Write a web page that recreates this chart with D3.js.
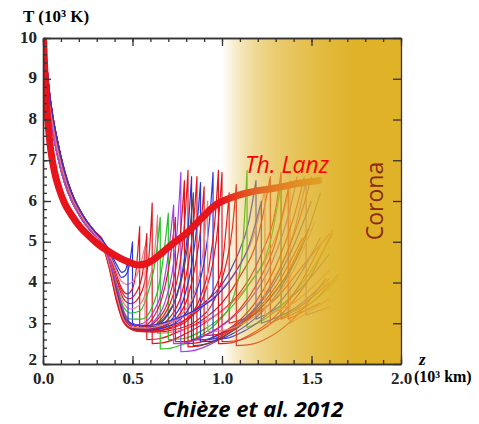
<!DOCTYPE html>
<html lang="en">
<head>
    <meta charset="UTF-8">
    <title>Temperature profiles</title>
    <script src="https://d3js.org/d3.v7.min.js"></script>
    <style>
        body { margin: 0; background: #fff; }
    </style>
</head>
<body>
<svg id="chart" width="479" height="424"></svg>
<script>
    // colours of the thin profiles
    const R = "#e0161e", B = "#2a36e0", G = "#22c222", P = "#a040e8", Pk = "#ef7c80", K = "#5c4646";

    // common steep descent near the photosphere (z in 10^3 km, T in 10^3 K)
    const envA = [[0.005,10],[0.015,9.3],[0.03,8.6],[0.05,8.0],[0.07,7.5],[0.095,7.0],[0.13,6.45],[0.17,6.0],[0.2,5.75],[0.235,5.5],[0.28,5.25],[0.33,5.0]];
    const envB = [[0.01,10],[0.022,9.3],[0.038,8.6],[0.058,8.0],[0.08,7.5],[0.105,7.0],[0.14,6.45],[0.18,6.0],[0.21,5.75],[0.245,5.5],[0.29,5.25],[0.335,5.02]];
    const envC = [[0.002,10],[0.01,9.3],[0.024,8.6],[0.043,8.0],[0.063,7.5],[0.087,7.0],[0.12,6.45],[0.16,6.0],[0.19,5.75],[0.225,5.5],[0.27,5.25],[0.325,5.0]];

    // thin profiles after the descent; two points with the same z = shock front
    const profiles = [
        [B, envA, [[0.37,4.75],[0.41,4.35],[0.44,4.12],[0.465,4.2],[0.485,4.5],[0.5,5.0],[0.5,3.0],[0.56,2.92],[0.66,2.98],[0.78,3.15],[0.9,3.5],[1.0,3.95],[1.08,4.6],[1.15,5.5],[1.19,6.5],[1.19,3.1],[1.3,3.35],[1.45,3.9],[1.6,4.7]]],
        [R, envB, [[0.37,4.7],[0.41,4.2],[0.44,3.85],[0.47,3.72],[0.5,3.85],[0.52,4.3],[0.54,5.37],[0.54,2.85],[0.6,2.82],[0.7,2.92],[0.82,3.15],[0.9,3.45],[0.96,3.85],[1.0,4.4],[1.04,6.2],[1.04,3.0],[1.15,3.15],[1.3,3.6],[1.45,4.4],[1.6,5.2]]],
        [R, envA, [[0.37,4.65],[0.41,4.1],[0.45,3.7],[0.48,3.6],[0.52,3.75],[0.555,4.2],[0.58,5.2],[0.58,2.6],[0.65,2.62],[0.75,2.78],[0.88,3.05],[1.0,3.5],[1.1,4.15],[1.2,5.1],[1.27,6.6],[1.27,3.0],[1.4,3.3],[1.6,4.0]]],
        [R, envC, [[0.37,4.6],[0.41,4.05],[0.45,3.6],[0.49,3.48],[0.53,3.6],[0.57,4.05],[0.595,4.8],[0.61,5.95],[0.61,2.5],[0.68,2.53],[0.8,2.75],[0.95,3.15],[1.1,3.75],[1.22,4.7],[1.3,5.8],[1.33,6.7],[1.33,3.1],[1.5,3.5],[1.65,4.2]]],
        [Pk, envB, [[0.37,4.6],[0.41,4.0],[0.45,3.5],[0.49,3.35],[0.54,3.45],[0.59,4.0],[0.625,4.8],[0.64,5.65],[0.64,2.75],[0.72,2.78],[0.85,2.95],[1.0,3.3],[1.15,3.95],[1.28,4.9],[1.36,6.0],[1.38,6.5],[1.38,3.0],[1.6,3.6]]],
        [G, envA, [[0.37,4.55],[0.41,3.95],[0.45,3.4],[0.49,3.25],[0.54,3.3],[0.59,3.8],[0.63,4.6],[0.655,5.6],[0.655,2.37],[0.7,2.38],[0.78,2.48],[0.88,2.7],[0.98,3.05],[1.06,3.6],[1.11,4.6],[1.14,6.75],[1.14,2.9],[1.22,3.05],[1.35,3.5],[1.5,4.3],[1.62,5.2]]],
        [G, envC, [[0.37,4.55],[0.41,3.9],[0.45,3.3],[0.49,3.1],[0.55,3.1],[0.61,3.4],[0.655,4.1],[0.68,4.9],[0.70,5.7],[0.70,2.6],[0.78,2.62],[0.9,2.85],[1.02,3.25],[1.15,3.95],[1.27,5.0],[1.33,6.4],[1.33,3.2],[1.5,3.5],[1.65,4.1]]],
        [R, envA, [[0.37,4.55],[0.41,3.9],[0.44,3.4],[0.47,3.08],[0.5,2.94],[0.55,2.9],[0.61,3.1],[0.66,3.55],[0.7,4.3],[0.74,5.6],[0.74,2.55],[0.8,2.55],[0.9,2.7],[1.0,2.95],[1.1,3.35],[1.2,4.0],[1.3,5.0],[1.37,6.3],[1.37,3.1],[1.55,3.5]]],
        [P, envB, [[0.37,4.5],[0.41,3.85],[0.44,3.35],[0.47,3.03],[0.51,2.88],[0.56,2.86],[0.62,3.05],[0.68,3.5],[0.72,4.2],[0.75,5.3],[0.77,6.7],[0.77,2.3],[0.83,2.32],[0.92,2.45],[1.02,2.7],[1.15,3.2],[1.28,4.0],[1.4,5.2],[1.47,6.5],[1.47,3.2],[1.6,3.4]]],
        [R, envC, [[0.37,4.5],[0.41,3.8],[0.44,3.3],[0.47,3.0],[0.52,2.86],[0.57,2.85],[0.63,3.05],[0.7,3.55],[0.74,4.3],[0.77,5.3],[0.79,6.5],[0.79,2.5],[0.86,2.52],[0.96,2.68],[1.08,3.0],[1.2,3.6],[1.32,4.6],[1.42,5.9],[1.46,6.6]]],
        [R, envA, [[0.37,4.5],[0.41,3.8],[0.44,3.25],[0.48,2.93],[0.53,2.85],[0.59,2.86],[0.65,3.05],[0.72,3.6],[0.76,4.3],[0.79,5.4],[0.81,6.75],[0.81,2.42],[0.88,2.45],[0.98,2.62],[1.1,2.95],[1.22,3.55],[1.35,4.6],[1.45,5.8],[1.5,6.6]]],
        [B, envB, [[0.37,4.45],[0.41,3.75],[0.44,3.25],[0.48,2.95],[0.53,2.86],[0.6,2.88],[0.68,3.1],[0.74,3.6],[0.78,4.3],[0.81,5.3],[0.83,6.6],[0.83,2.6],[0.9,2.6],[1.0,2.75],[1.12,3.1],[1.25,3.7],[1.38,4.7],[1.5,6.0]]],
        [R, envC, [[0.37,4.45],[0.41,3.7],[0.45,3.1],[0.49,2.9],[0.55,2.84],[0.63,2.9],[0.71,3.15],[0.77,3.65],[0.81,4.4],[0.84,5.4],[0.86,6.6],[0.86,2.6],[0.93,2.6],[1.03,2.78],[1.15,3.15],[1.3,3.9],[1.45,5.1]]],
        [B, envA, [[0.37,4.45],[0.41,3.7],[0.45,3.1],[0.49,2.88],[0.55,2.83],[0.64,2.88],[0.73,3.15],[0.79,3.65],[0.83,4.4],[0.86,5.4],[0.88,6.45],[0.88,2.55],[0.95,2.56],[1.05,2.72],[1.18,3.1],[1.32,3.8],[1.45,4.9]]],
        [R, envB, [[0.37,4.45],[0.41,3.65],[0.45,3.05],[0.5,2.86],[0.57,2.83],[0.66,2.9],[0.75,3.15],[0.81,3.65],[0.85,4.4],[0.88,5.3],[0.90,6.35],[0.90,2.7],[0.97,2.72],[1.07,2.9],[1.2,3.3],[1.35,4.1],[1.48,5.3]]],
        [B, envC, [[0.37,4.4],[0.41,3.65],[0.45,3.05],[0.5,2.85],[0.58,2.82],[0.68,2.9],[0.78,3.15],[0.85,3.7],[0.9,4.5],[0.93,5.5],[0.95,6.7],[0.95,2.62],[1.02,2.63],[1.12,2.8],[1.25,3.2],[1.4,3.95],[1.55,5.1]]],
        [R, envA, [[0.37,4.4],[0.41,3.6],[0.45,3.02],[0.51,2.83],[0.6,2.8],[0.7,2.88],[0.8,3.1],[0.88,3.65],[0.93,4.45],[0.96,5.5],[0.98,6.75],[0.98,2.5],[1.05,2.52],[1.15,2.7],[1.28,3.1],[1.42,3.85],[1.55,4.9]]],
        [R, envB, [[0.37,4.4],[0.41,3.6],[0.46,3.0],[0.52,2.82],[0.61,2.8],[0.72,2.88],[0.82,3.12],[0.9,3.7],[0.95,4.5],[0.98,5.5],[1.0,6.7],[1.0,2.55],[1.08,2.57],[1.2,2.78],[1.35,3.3],[1.5,4.2],[1.62,5.3]]],
        [R, envC, [[0.37,4.35],[0.41,3.55],[0.46,2.97],[0.53,2.8],[0.62,2.78],[0.75,2.86],[0.87,3.1],[0.96,3.6],[1.02,4.4],[1.06,5.4],[1.08,6.4],[1.08,2.45],[1.16,2.48],[1.28,2.7],[1.42,3.2],[1.58,4.1]]],
        [K, envA, [[0.37,4.5],[0.41,3.85],[0.45,3.2],[0.48,2.94],[0.53,2.86],[0.61,2.92],[0.69,3.2],[0.75,3.7],[0.79,4.4],[0.82,5.3],[0.84,6.2],[0.84,2.45],[0.92,2.5],[1.02,2.7],[1.15,3.1],[1.3,3.8],[1.45,4.9],[1.55,6.2]]],
        [Pk, envC, [[0.37,4.45],[0.41,3.7],[0.45,3.1],[0.5,2.9],[0.58,2.88],[0.68,2.98],[0.78,3.25],[0.85,3.8],[0.89,4.6],[0.92,6.0],[0.92,2.8],[1.0,2.82],[1.12,3.0],[1.26,3.45],[1.4,4.3],[1.52,5.5]]],
        [P, envC, [[0.37,4.55],[0.41,3.95],[0.44,3.45],[0.47,3.1],[0.51,2.96],[0.56,3.0],[0.62,3.3],[0.67,3.9],[0.7,4.7],[0.73,5.9],[0.73,2.5],[0.8,2.52],[0.9,2.68],[1.02,3.0],[1.15,3.55],[1.28,4.5],[1.38,5.8],[1.42,6.6]]],
        [Pk, envA, [[0.37,4.7],[0.41,4.28],[0.44,4.02],[0.47,3.95],[0.5,4.02],[0.535,4.3],[0.57,4.9],[0.57,2.95],[0.63,2.95],[0.73,3.05],[0.85,3.3],[0.97,3.7],[1.08,4.3],[1.18,5.2],[1.24,6.3],[1.24,3.2],[1.4,3.5],[1.6,4.3]]],
        [B, envB, [[0.37,4.8],[0.41,4.45],[0.44,4.25],[0.46,4.3],[0.475,4.55],[0.475,3.05],[0.52,2.95],[0.6,2.95],[0.7,3.05],[0.82,3.25],[0.95,3.6],[1.06,4.15],[1.15,4.9],[1.22,6.0],[1.22,3.0],[1.4,3.35],[1.6,4.1]]]
    ];

    // thick mean profile (Th. Lanz)
    const lanz = [[0.003,10],[0.01,9.2],[0.02,8.4],[0.03,7.8],[0.045,7.2],[0.065,6.7],[0.09,6.3],[0.12,5.95],[0.16,5.65],[0.21,5.35],[0.26,5.13],[0.3,4.97],[0.36,4.78],[0.43,4.6],[0.48,4.5],[0.53,4.43],[0.58,4.47],[0.62,4.57],[0.67,4.75],[0.73,4.97],[0.8,5.2],[0.88,5.55],[0.97,5.92],[1.05,6.08],[1.14,6.2],[1.3,6.32],[1.44,6.44],[1.54,6.5]];

    // corona shading: [z, opacity]
    const coronaStops = [[1.0,0],[1.06,0.2],[1.12,0.36],[1.2,0.52],[1.3,0.66],[1.4,0.76],[1.5,0.84],[1.6,0.92],[1.75,1],[2.0,1]];

    const xTicks = [0.0, 0.5, 1.0, 1.5, 2.0];
    const yTicks = [2, 3, 4, 5, 6, 7, 8, 9, 10];

    const serif = '"Liberation Serif", "DejaVu Serif", serif';

    const svg = d3.select("#chart");
    const x = d3.scaleLinear().domain([0, 2]).range([43, 401]);
    const y = d3.scaleLinear().domain([2, 10]).range([364, 38]);

    svg.append("clipPath").attr("id", "plot")
        .append("rect").attr("x", 43).attr("y", 38).attr("width", 358).attr("height", 326);

    const line = d3.line().x(d => x(d[0])).y(d => y(d[1])).curve(d3.curveMonotoneX);

    // smooth pieces joined by vertical shock fronts
    function profilePath(pts) {
        const runs = [[pts[0]]];
        for (let i = 1; i < pts.length; i++) {
            if (pts[i][0] === pts[i - 1][0]) runs.push([pts[i]]);
            else runs[runs.length - 1].push(pts[i]);
        }
        return runs.map((r, i) => {
            const d = r.length > 1 ? line(r) : `M${x(r[0][0])},${y(r[0][1])}`;
            return i ? "L" + d.slice(1) : d;
        }).join("");
    }

    const plot = svg.append("g").attr("clip-path", "url(#plot)");

    plot.selectAll(".thin").data(profiles).enter().append("path")
        .attr("class", "thin")
        .attr("d", d => profilePath(d[1].concat(d[2])))
        .style("fill", "none")
        .style("stroke", d => d[0])
        .style("stroke-width", 1.2)
        .style("stroke-linejoin", "round");

    plot.append("path")
        .attr("d", line(lanz))
        .style("fill", "none")
        .style("stroke", "#e8141b")
        .style("stroke-width", 7)
        .style("stroke-linecap", "round");

    // gold corona overlay
    const grad = svg.append("defs").append("linearGradient")
        .attr("id", "corona").attr("gradientUnits", "userSpaceOnUse")
        .attr("x1", x(1.0)).attr("x2", x(2.0)).attr("y1", 0).attr("y2", 0);
    grad.selectAll("stop").data(coronaStops).enter().append("stop")
        .attr("offset", d => (d[0] - 1.0) / 1.0)
        .attr("stop-color", "#dfb228")
        .attr("stop-opacity", d => d[1]);

    svg.append("rect")
        .attr("x", x(1.0)).attr("y", y(10))
        .attr("width", x(2.0) - x(1.0)).attr("height", y(2) - y(10))
        .style("fill", "url(#corona)");

    // axes, ticks pointing inwards
    const xMinor = d3.range(0, 21).map(i => i / 10);
    const yMinor = d3.range(0, 41).map(i => 2 + i / 5);

    svg.append("g").attr("transform", `translate(0,${y(2)})`)
        .call(d3.axisBottom(x).tickValues(xMinor).tickSize(-4).tickSizeOuter(0).tickFormat(""));
    svg.append("g").attr("class", "xlab").attr("transform", `translate(0,${y(2)})`)
        .call(d3.axisBottom(x).tickValues(xTicks).tickSize(-8).tickSizeOuter(0).tickPadding(8).tickFormat(d3.format(".1f")));
    svg.append("g").attr("transform", `translate(0,${y(10)})`)
        .call(d3.axisTop(x).tickValues(xMinor).tickSize(-4).tickSizeOuter(0).tickFormat(""));
    svg.append("g").attr("transform", `translate(0,${y(10)})`)
        .call(d3.axisTop(x).tickValues(xTicks).tickSize(-8).tickSizeOuter(0).tickFormat(""));

    svg.append("g").attr("transform", `translate(${x(0)},0)`)
        .call(d3.axisLeft(y).tickValues(yMinor).tickSize(-4).tickSizeOuter(0).tickFormat(""));
    svg.append("g").attr("class", "ylab").attr("transform", `translate(${x(0)},0)`)
        .call(d3.axisLeft(y).tickValues(yTicks).tickSize(-8).tickSizeOuter(0).tickPadding(6).tickFormat(d3.format("d")));
    svg.append("g").attr("transform", `translate(${x(2)},0)`)
        .call(d3.axisRight(y).tickValues(yTicks).tickSize(-8).tickSizeOuter(0).tickFormat(""));

    svg.selectAll(".domain").attr("fill", "none").attr("stroke", "#333").attr("stroke-width", 1.3);
    svg.selectAll(".tick line").attr("stroke", "#333").attr("stroke-width", 1.3);
    svg.selectAll(".tick text")
        .attr("font-family", serif).attr("font-weight", "bold").attr("font-size", 17).attr("fill", "#222");
    svg.selectAll(".ylab .tick text").attr("dy", d => d === 2 ? "0.02em" : "0.24em");

    // axis titles
    svg.append("text").attr("x", 23).attr("y", 22)
        .attr("font-family", serif).attr("font-weight", "bold").attr("font-size", 17)
        .text("T (10³ K)");
    svg.append("text").attr("x", 419).attr("y", 365)
        .attr("font-family", serif).attr("font-weight", "bold").attr("font-style", "italic").attr("font-size", 17)
        .text("z");
    svg.append("text").attr("x", 414).attr("y", 382)
        .attr("font-family", serif).attr("font-weight", "bold").attr("font-size", 16)
        .text("(10³ km)");

    // annotations
    svg.append("text").attr("x", 245).attr("y", 173)
        .attr("font-family", "'Open Sans', sans-serif").attr("font-style", "italic").attr("font-size", 23)
        .attr("fill", "#ff0000")
        .text("Th. Lanz");

    svg.append("text").attr("transform", "translate(383,201) rotate(-90)")
        .attr("text-anchor", "middle")
        .attr("font-family", "'Open Sans', sans-serif").attr("font-size", 23)
        .attr("fill", "#8a2a12")
        .text("Corona");

    svg.append("text").attr("x", 253).attr("y", 417)
        .attr("text-anchor", "middle")
        .attr("font-family", "'Open Sans', sans-serif").attr("font-weight", "bold").attr("font-style", "italic").attr("font-size", 22)
        .text("Chièze et al. 2012");
</script>
</body>
</html>
